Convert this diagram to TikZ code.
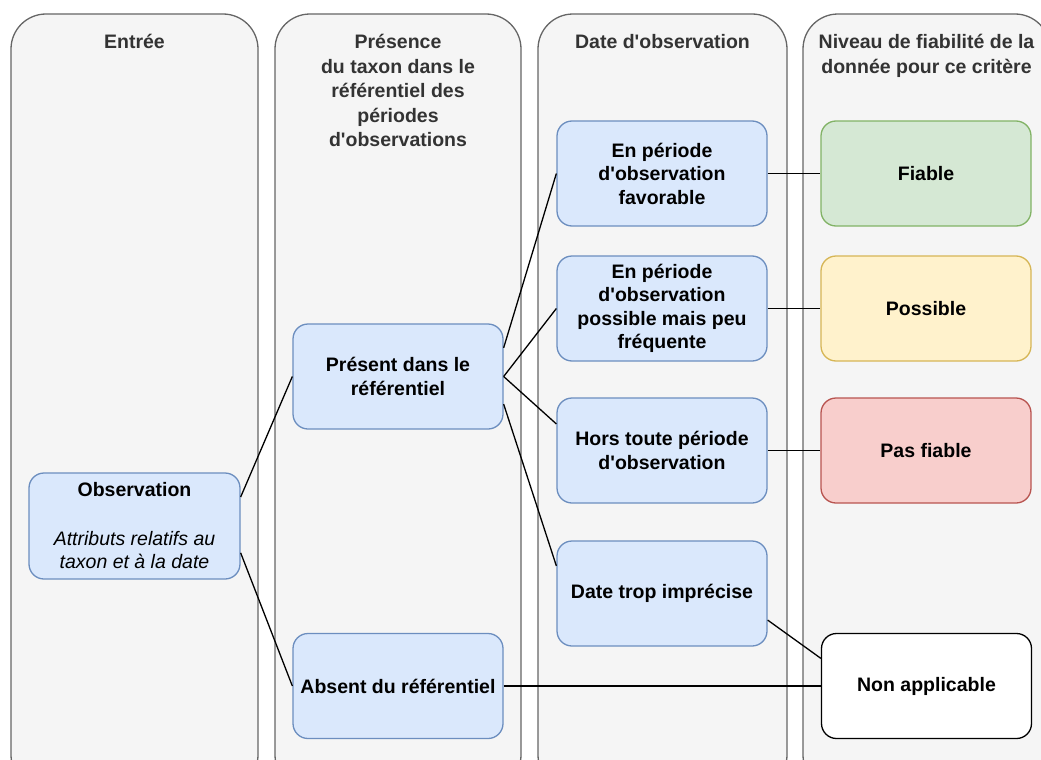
\documentclass[tikz,border=0pt]{standalone}
\usepackage{fontspec}
\setmainfont{Liberation Sans}
\usetikzlibrary{calc}
\definecolor{lanefill}{HTML}{F5F5F5}
\definecolor{lanedraw}{HTML}{666666}
\definecolor{titletext}{HTML}{333333}
\definecolor{bluefill}{HTML}{DAE8FC}
\definecolor{bluedraw}{HTML}{6C8EBF}
\definecolor{greenfill}{HTML}{D5E8D4}
\definecolor{greendraw}{HTML}{82B366}
\definecolor{yellowfill}{HTML}{FFF2CC}
\definecolor{yellowdraw}{HTML}{D6B656}
\definecolor{redfill}{HTML}{F8CECC}
\definecolor{reddraw}{HTML}{B85450}
\newcommand{\apos}{\textquotesingle}
\begin{document}
\begin{tikzpicture}[x=1pt,y=-1pt,
  lane/.style={draw=lanedraw,fill=lanefill,line width=1.3pt,rounded corners=35pt},
  lanetitle/.style={anchor=north,align=center,text=titletext,
    font=\fontsize{19.5}{24.5}\selectfont\bfseries},
  box/.style={rounded corners=15pt,line width=1.3pt,minimum width=210pt,
    minimum height=105pt,align=center,inner sep=2pt,
    font=\fontsize{19.5}{23.5}\selectfont\bfseries},
  bluebox/.style={box,draw=bluedraw,fill=bluefill},
  link/.style={line width=1.3pt,black}]
  \clip (0,0) rectangle (1041,760);
  % swimlanes
  \draw[lane] (11,14) rectangle (258,790);
  \draw[lane] (275,14) rectangle (521,790);
  \draw[lane] (538,14) rectangle (787,790);
  \draw[lane] (803,14) rectangle (1050,790);
  \node[lanetitle] (tentree) at (134.5,31) {Entrée};
  \node[lanetitle] (tpresence) at (398,31) {Présence\\du taxon dans le\\référentiel des\\périodes\\d\apos observations};
  \node[lanetitle] (tdate) at (662.5,31) {Date d\apos observation};
  \node[lanetitle] (tniveau) at (926.5,31) {Niveau de fiabilité de la\\donnée pour ce critère};
  % nodes
  \node[bluebox,minimum width=211pt,minimum height=106pt] (obs) at (134.5,526)
    {Observation\\[25pt]\normalfont\itshape Attributs relatifs au\\\normalfont\itshape taxon et à la date};
  \node[bluebox] (present) at (398,376.5) {Présent dans le\\référentiel};
  \node[bluebox] (absent) at (398,686) {Absent du référentiel};
  \node[bluebox] (favorable) at (662,173.5) {En période\\d\apos observation\\favorable};
  \node[bluebox] (peufreq) at (662,308.5) {En période\\d\apos observation\\possible mais peu\\fréquente};
  \node[bluebox] (hors) at (662,450.5) {Hors toute période\\d\apos observation};
  \node[bluebox] (imprecise) at (662,593.5) {Date trop imprécise};
  \node[box,draw=greendraw,fill=greenfill] (fiable) at (926,173.5) {Fiable};
  \node[box,draw=yellowdraw,fill=yellowfill] (possible) at (926,308.5) {Possible};
  \node[box,draw=reddraw,fill=redfill] (pasfiable) at (926,450.5) {Pas fiable};
  \node[box,draw=black,fill=white] (nonapp) at (926.5,686) {Non applicable};
  % connectors
  \draw[link] ($(obs.north east)!.23!(obs.south east)$) -- (present.west);
  \draw[link] ($(obs.north east)!.75!(obs.south east)$) -- (absent.west);
  \draw[link] ($(present.north east)!.23!(present.south east)$) -- (favorable.west);
  \draw[link] (present.east) -- (peufreq.west);
  \draw[link] (present.east) -- ($(hors.north west)!.25!(hors.south west)$);
  \draw[link] ($(present.north east)!.76!(present.south east)$) -- ($(imprecise.north west)!.24!(imprecise.south west)$);
  \draw[link] (favorable.east) -- (fiable.west);
  \draw[link] (peufreq.east) -- (possible.west);
  \draw[link] (hors.east) -- (pasfiable.west);
  \draw[link] ($(imprecise.north east)!.75!(imprecise.south east)$) -- ($(nonapp.north west)!.24!(nonapp.south west)$);
  \draw[link] (absent.east) -- (nonapp.west);
\end{tikzpicture}
\end{document}
